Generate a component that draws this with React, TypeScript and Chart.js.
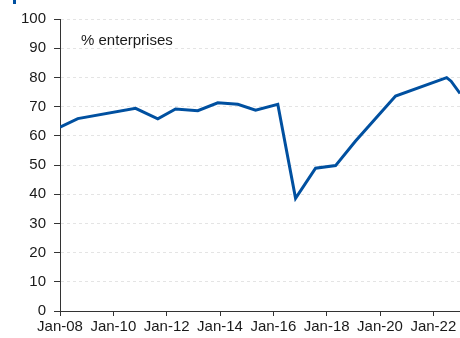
import React, { useEffect, useRef } from "react";
import { Chart, registerables } from "chart.js";

Chart.register(...registerables);

// Survey dates (YYYY-MM) and share of enterprises (%)
const surveyDates = [
  "2008-01", "2008-09", "2010-11", "2011-09", "2012-05", "2013-03",
  "2013-12", "2014-09", "2015-05", "2016-03", "2016-11", "2017-08",
  "2018-05", "2019-02", "2020-08", "2022-07", "2022-09", "2023-01",
];
const enterpriseShare = [
  63.0, 65.9, 69.4, 65.8, 69.2, 68.6,
  71.3, 70.8, 68.8, 70.8, 38.6, 48.9,
  49.8, 58.2, 73.6, 79.9, 78.7, 74.5,
];
const xTickYears = [2008, 2010, 2012, 2014, 2016, 2018, 2020, 2022];
const xTickLabels = ["Jan-08", "Jan-10", "Jan-12", "Jan-14", "Jan-16", "Jan-18", "Jan-20", "Jan-22"];
const yTicks = [0, 10, 20, 30, 40, 50, 60, 70, 80, 90, 100];
const unitLabel = "% enterprises";

const toYear = (s: string) => {
  const [y, m] = s.split("-").map(Number);
  return y + (m - 1) / 12;
};

const LINE = "#0050A0";
const TEXT = "#1a1a1a";
const FONT = "'Liberation Sans', Arial, sans-serif";

export default function App() {
  const ref = useRef<HTMLCanvasElement | null>(null);
  useEffect(() => {
    if (!ref.current) return;
    const points = surveyDates.map((d, i) => ({ x: toYear(d), y: enterpriseShare[i] }));
    const labelPlugin = {
      id: "unitLabel",
      afterDraw(chart: any) {
        const { ctx, chartArea } = chart;
        ctx.save();
        ctx.fillStyle = TEXT;
        ctx.font = `15px ${FONT}`;
        ctx.textBaseline = "middle";
        ctx.textAlign = "left";
        ctx.fillText(unitLabel, chartArea.left + 21, chartArea.top + 22);
        ctx.restore();
      },
    };
    const chart = new Chart(ref.current, {
      type: "line",
      data: {
        datasets: [
          {
            data: points,
            borderColor: LINE,
            borderWidth: 3,
            pointRadius: 0,
            tension: 0,
            fill: false,
          },
        ],
      },
      options: {
        animation: false,
        responsive: true,
        maintainAspectRatio: false,
        layout: { padding: { top: 19, left: 13, right: 0, bottom: 0 } },
        plugins: { legend: { display: false }, tooltip: { enabled: false } },
        scales: {
          x: {
            type: "linear",
            min: toYear(surveyDates[0]),
            max: toYear(surveyDates[surveyDates.length - 1]),
            afterBuildTicks: (scale: any) => {
              scale.ticks = xTickYears.map((v) => ({ value: v }));
            },
            ticks: {
              autoSkip: false,
              maxRotation: 0,
              padding: 2,
              color: TEXT,
              font: { family: FONT, size: 15 },
              callback: (v: any) => {
                const i = xTickYears.indexOf(Number(v));
                return i >= 0 ? xTickLabels[i] : "";
              },
            },
            grid: {
              drawOnChartArea: false,
              drawTicks: true,
              tickLength: 5,
              tickColor: "#333",
              tickWidth: 1,
            },
            border: { display: true, color: "#333", width: 1 },
          },
          y: {
            min: 0,
            max: 100,
            afterBuildTicks: (scale: any) => {
              scale.ticks = yTicks.map((v) => ({ value: v }));
            },
            ticks: {
              padding: 8,
              color: TEXT,
              font: { family: FONT, size: 15 },
            },
            grid: {
              color: "#e4e4e4",
              drawTicks: true,
              tickLength: 6,
              tickColor: "#333",
              tickWidth: 1,
            },
            border: { display: true, color: "#333", width: 1, dash: [3, 3] },
          },
        },
      },
      plugins: [labelPlugin],
    });
    return () => chart.destroy();
  }, []);
  return (
    <div style={{ position: "absolute", left: 0, top: 0, width: 460, height: 338, background: "#fff" }}>
      <div style={{ position: "absolute", left: 13, top: 0, width: 3, height: 4, background: LINE }} />
      <canvas ref={ref} />
    </div>
  );
}
